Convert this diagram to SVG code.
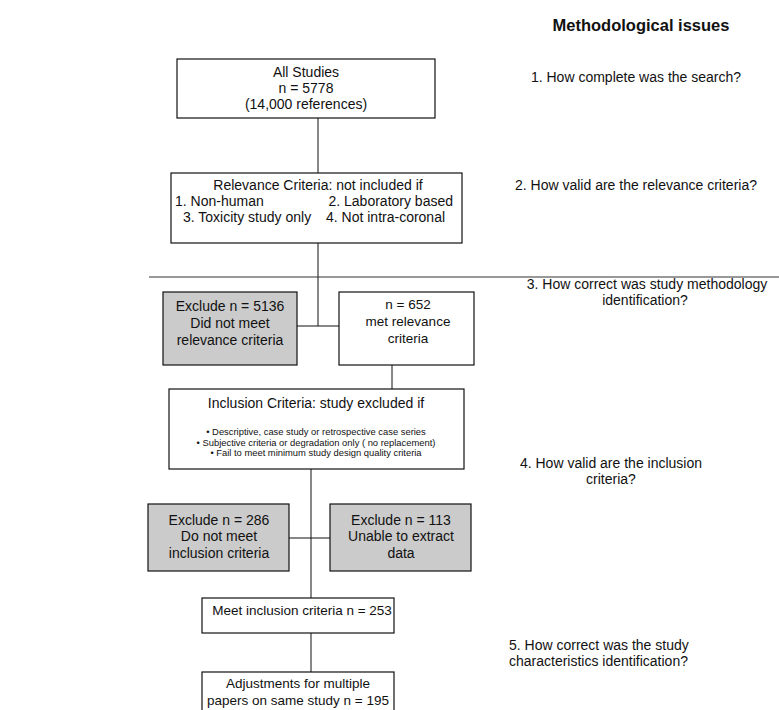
<svg xmlns="http://www.w3.org/2000/svg" width="779" height="710" viewBox="0 0 779 710">
<style>
.box{fill:#fff;stroke:#111;stroke-width:1.2}
.grey{fill:#cbcbcb;stroke:#111;stroke-width:1.2}
.t{font-family:"Liberation Sans",Arial,sans-serif;font-size:14px;fill:#111;text-anchor:middle}
.s{font-family:"Liberation Sans",Arial,sans-serif;font-size:9.4px;fill:#111;text-anchor:middle}
.q{font-family:"Liberation Sans",Arial,sans-serif;font-size:14px;fill:#111}
.h{font-family:"Liberation Sans",Arial,sans-serif;font-size:16.5px;font-weight:bold;fill:#111;text-anchor:middle}
.c{fill:none;stroke:#111;stroke-width:1}
</style>
<rect width="779" height="710" fill="#fff"/>
<g id="connectors">
<line class="c" x1="318" y1="118" x2="318" y2="173"/>
<line class="c" x1="318" y1="243" x2="318" y2="326"/>
<line class="c" x1="297" y1="326" x2="339" y2="326"/>
<line class="c" x1="392" y1="365" x2="392" y2="389"/>
<line class="c" x1="311" y1="469" x2="311" y2="598"/>
<line class="c" x1="289" y1="538" x2="330" y2="538"/>
<line class="c" x1="311" y1="633" x2="311" y2="672"/>
</g>
<g id="separator">
<line x1="149" y1="277" x2="779" y2="277" stroke="#333" stroke-width="1"/>
</g>
<g id="all-studies">
<rect class="box" x="177" y="59" width="258" height="59"/>
<text class="t" x="306" y="77">All Studies</text>
<text class="t" x="306" y="93">n = 5778</text>
<text class="t" x="306" y="109">(14,000 references)</text>
</g>
<g id="relevance">
<rect class="box" x="171" y="173" width="291" height="70"/>
<text class="t" x="318" y="190">Relevance Criteria: not included if</text>
<text class="q" x="175" y="206">1. Non-human</text>
<text class="q" x="453" y="206" text-anchor="end">2. Laboratory based</text>
<text class="q" x="183" y="222">3. Toxicity study only</text>
<text class="q" x="326" y="222">4. Not intra-coronal</text>
</g>
<g id="exclude-5136">
<rect class="grey" x="163" y="292" width="134" height="73"/>
<text class="t" x="230" y="311">Exclude n = 5136</text>
<text class="t" x="230" y="328">Did not meet</text>
<text class="t" x="230" y="345">relevance criteria</text>
</g>
<g id="met-relevance">
<rect class="box" x="339" y="292" width="135" height="73"/>
<text class="t" x="408" y="309" style="font-size:13.5px">n = 652</text>
<text class="t" x="408" y="326" style="font-size:13.5px">met relevance</text>
<text class="t" x="408" y="343" style="font-size:13.5px">criteria</text>
</g>
<g id="inclusion">
<rect class="box" x="169" y="389" width="295" height="80"/>
<text class="t" x="316" y="408">Inclusion Criteria: study excluded if</text>
<text class="s" x="316" y="435">•  Descriptive, case study or retrospective case series</text>
<text class="s" x="316" y="445.5">•  Subjective criteria or degradation only ( no replacement)</text>
<text class="s" x="316" y="456">•  Fail to meet minimum study design quality criteria</text>
</g>
<g id="exclude-286">
<rect class="grey" x="148" y="504" width="141" height="67"/>
<text class="t" x="219" y="525">Exclude n = 286</text>
<text class="t" x="219" y="541">Do not meet</text>
<text class="t" x="219" y="558">inclusion criteria</text>
</g>
<g id="exclude-113">
<rect class="grey" x="330" y="504" width="141" height="67"/>
<text class="t" x="401" y="525">Exclude n = 113</text>
<text class="t" x="401" y="541">Unable to extract</text>
<text class="t" x="401" y="558">data</text>
</g>
<g id="meet-inclusion">
<rect class="box" x="202" y="598" width="192" height="35"/>
<text class="t" x="302" y="615" style="font-size:13.5px">Meet inclusion criteria n = 253</text>
</g>
<g id="adjustments">
<rect class="box" x="202" y="672" width="192" height="50"/>
<text class="t" x="298" y="688" style="font-size:13.5px">Adjustments for multiple</text>
<text class="t" x="298" y="705" style="font-size:13.5px">papers on same study n = 195</text>
</g>
<g id="issues">
<text class="h" x="641" y="31">Methodological issues</text>
<text class="q" x="636" y="82" text-anchor="middle">1. How complete was the search?</text>
<text class="q" x="636" y="190" text-anchor="middle">2. How valid are the relevance criteria?</text>
<text class="q" x="647" y="289" text-anchor="middle">3. How correct was study methodology</text>
<text class="q" x="645" y="305" text-anchor="middle">identification?</text>
<text class="q" x="611" y="468" text-anchor="middle">4. How valid are the inclusion</text>
<text class="q" x="611" y="484" text-anchor="middle">criteria?</text>
<text class="q" x="509" y="650">5. How correct was the study</text>
<text class="q" x="509" y="666">characteristics identification?</text>
</g>
</svg>
